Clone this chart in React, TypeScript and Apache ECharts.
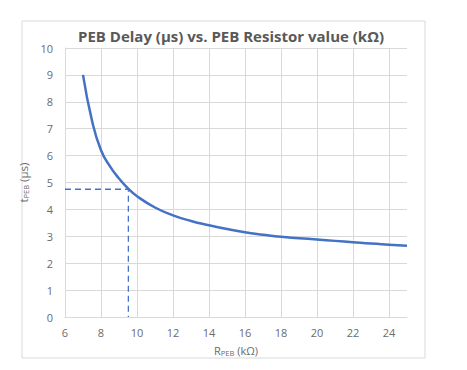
import React, { useEffect, useRef } from "react";
import * as echarts from "echarts";

const rValues = [7, 7.5, 8, 8.5, 9, 9.5, 10, 11, 12, 13, 14, 15, 16, 17, 18, 19, 20, 21, 22, 23, 24, 25];
const tValues = [9.0, 7.3, 6.2, 5.6, 5.15, 4.78, 4.49, 4.07, 3.78, 3.57, 3.41, 3.27, 3.15, 3.06, 2.98, 2.93, 2.88, 2.83, 2.78, 2.73, 2.69, 2.65];
const markerR = 9.52;
const markerT = 4.75;
const titleText = "PEB Delay (µs) vs. PEB Resistor value (kΩ)";

export default function App() {
  const ref = useRef<HTMLDivElement>(null);
  useEffect(() => {
    if (!ref.current) return;
    const chart = echarts.init(ref.current, null, { renderer: "svg" });
    const font = "'Open Sans', 'Liberation Sans', sans-serif";
    const gray = "#595959";
    const labelGray = "#6b6b6b";
    const gridColor = "#d9d9d9";
    chart.setOption({
      animation: false,
      backgroundColor: "#ffffff",
      textStyle: { fontFamily: font },
      title: {
        text: titleText,
        left: 226,
        top: 23,
        textAlign: "center",
        textStyle: { fontFamily: font, fontSize: 15, fontWeight: "bold", color: gray },
      },
      graphic: [
        {
          type: "rect",
          shape: { x: 22, y: 21, width: 403, height: 337 },
          style: { fill: "none", stroke: gridColor, lineWidth: 1 },
          z: -1,
        },
      ],
      grid: { left: 65, right: 60, top: 48, bottom: 53 },
      xAxis: {
        type: "value",
        min: 6,
        max: 25,
        interval: 2,
        axisLine: { show: true, lineStyle: { color: gridColor } },
        axisTick: { show: false },
        axisLabel: {
          color: labelGray,
          fontSize: 11,
          fontFamily: font,
          margin: 10,
          showMaxLabel: false,
        },
        splitLine: { show: true, showMaxLine: false, lineStyle: { color: gridColor } },
        name: "{m|R}{s|PEB}{m| (kΩ)}",
        nameLocation: "middle",
        nameGap: 27,
        nameTextStyle: {
          color: labelGray,
          rich: {
            m: { fontSize: 11, color: labelGray, fontFamily: font },
            s: { fontSize: 7.5, color: labelGray, fontFamily: font, verticalAlign: "bottom", padding: [5, 0, 0, 0] },
          },
        },
      },
      yAxis: {
        type: "value",
        min: 0,
        max: 10,
        interval: 1,
        axisLine: { show: true, lineStyle: { color: gridColor } },
        axisTick: { show: false },
        axisLabel: { color: labelGray, fontSize: 11, fontFamily: font, margin: 12 },
        splitLine: { show: true, lineStyle: { color: gridColor } },
        name: "{m|t}{s|PEB}{m| (µs)}",
        nameLocation: "middle",
        nameGap: 30,
        nameRotate: 90,
        nameTextStyle: {
          color: labelGray,
          rich: {
            m: { fontSize: 11.5, color: labelGray, fontFamily: font },
            s: { fontSize: 7.5, color: labelGray, fontFamily: font, verticalAlign: "bottom", padding: [5, 0, 0, 0] },
          },
        },
      },
      series: [
        {
          type: "line",
          data: [
            [6, markerT],
            [markerR, markerT],
            [markerR, 0],
          ],
          showSymbol: false,
          lineStyle: { color: "#4472c4", width: 1.3, type: [6, 4] },
          z: 2,
        },
        {
          type: "line",
          data: rValues.map((r, i) => [r, tValues[i]]),
          smooth: 0.5,
          showSymbol: false,
          lineStyle: { color: "#4472c4", width: 2.5 },
          z: 3,
        },
      ],
    });
    return () => chart.dispose();
  }, []);
  return (
    <div
      ref={ref}
      style={{ position: "absolute", left: 0, top: 0, width: 467, height: 370 }}
    />
  );
}
